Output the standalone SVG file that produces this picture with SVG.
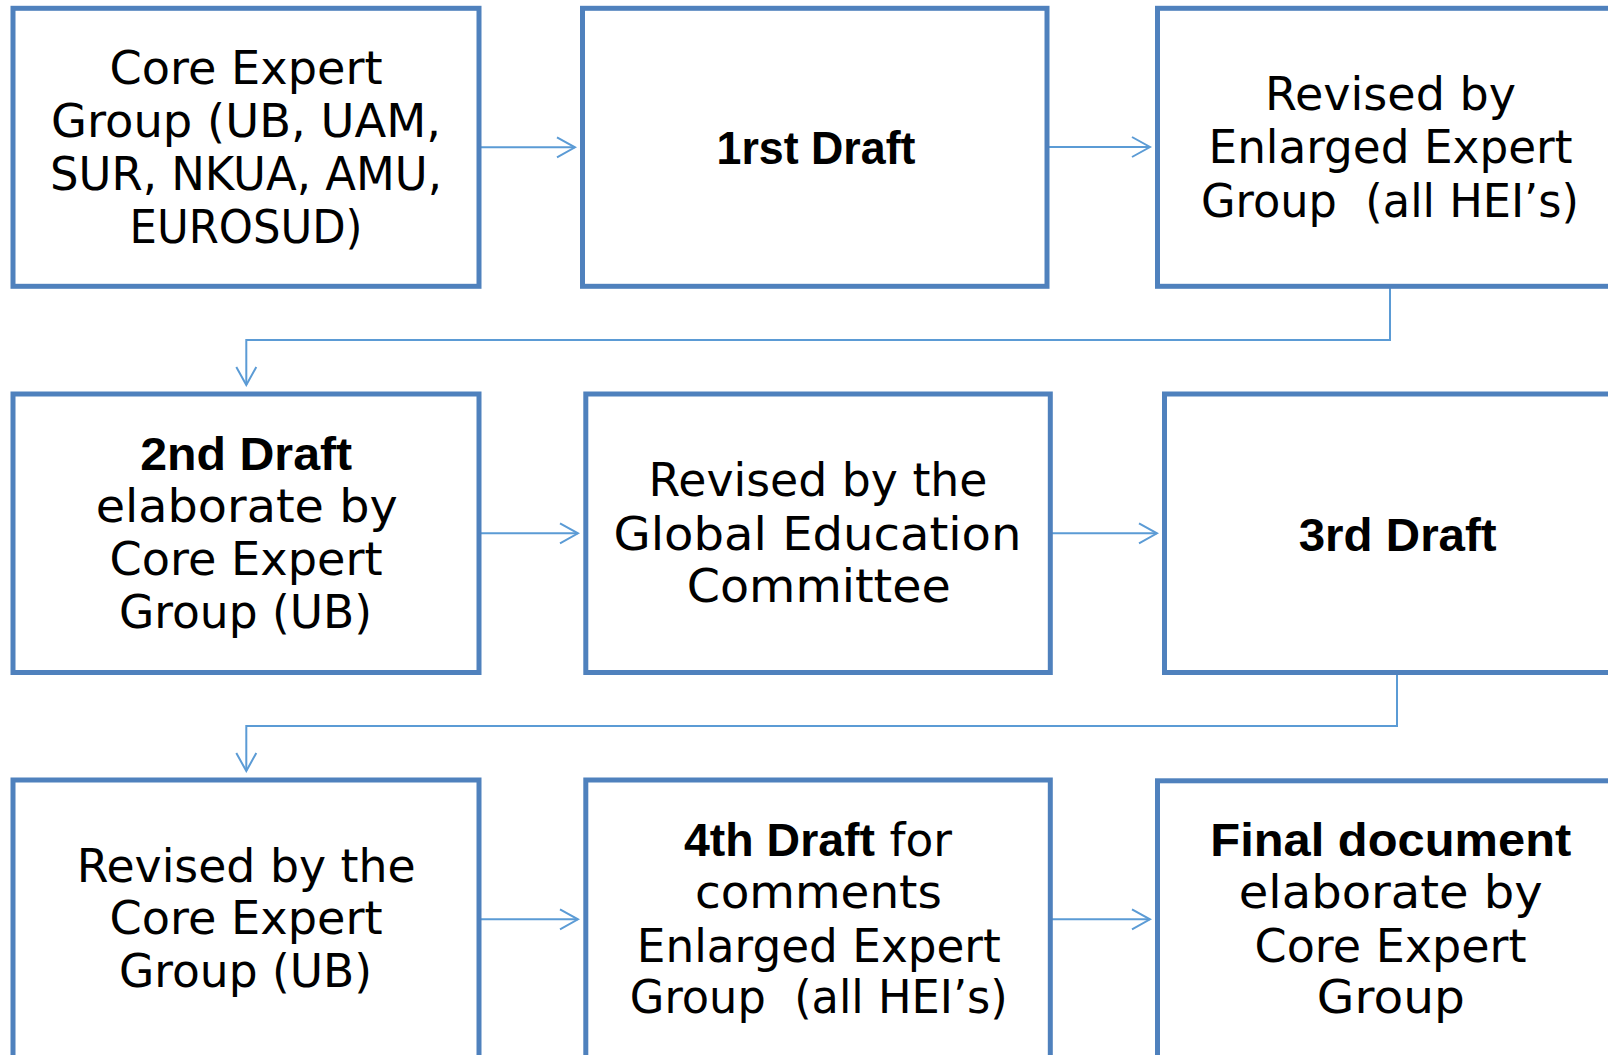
<svg xmlns="http://www.w3.org/2000/svg" width="1608" height="1055" viewBox="0 0 1608 1055">
<style>
.box{fill:#FFFFFF;stroke:#4F81BD;stroke-width:5}
.conn{fill:none;stroke:#5B9BD5;stroke-width:2}
.t{font-family:"DejaVu Sans",sans-serif;font-size:46px;fill:#000000;text-anchor:middle}
.b{font-family:"Liberation Sans",Arial,sans-serif;font-weight:bold;font-size:47px;fill:#000000;text-anchor:middle}
.bs{font-family:"Liberation Sans",Arial,sans-serif;font-weight:bold}
</style>
<defs>
<marker id="arr" markerUnits="userSpaceOnUse" markerWidth="22" markerHeight="24" viewBox="0 0 22 24" refX="20" refY="12" orient="auto">
<path d="M2,2 L20,12 L2,22" fill="none" stroke="#5B9BD5" stroke-width="2"/>
</marker>
</defs>
<rect width="1608" height="1055" fill="#FFFFFF"/>
<g id="connectors">
<line class="conn" x1="479" y1="147.3" x2="575" y2="147.3" marker-end="url(#arr)"/>
<line class="conn" x1="1047" y1="147" x2="1150" y2="147" marker-end="url(#arr)"/>
<polyline class="conn" points="1390,286 1390,340 246.3,340 246.3,385" marker-end="url(#arr)"/>
<line class="conn" x1="479" y1="533.3" x2="578" y2="533.3" marker-end="url(#arr)"/>
<line class="conn" x1="1050" y1="533.3" x2="1157" y2="533.3" marker-end="url(#arr)"/>
<polyline class="conn" points="1397,672 1397,726 246.3,726 246.3,771" marker-end="url(#arr)"/>
<line class="conn" x1="479" y1="919.3" x2="578" y2="919.3" marker-end="url(#arr)"/>
<line class="conn" x1="1050" y1="919.3" x2="1150" y2="919.3" marker-end="url(#arr)"/>
</g>
<g id="node1">
<rect class="box" x="13" y="8.3" width="466" height="278"/>
<text class="t" x="246" y="84" textLength="273" lengthAdjust="spacingAndGlyphs">Core Expert</text>
<text class="t" x="246" y="137" textLength="390" lengthAdjust="spacingAndGlyphs">Group (UB, UAM,</text>
<text class="t" x="246" y="190" textLength="392" lengthAdjust="spacingAndGlyphs">SUR, NKUA, AMU,</text>
<text class="t" x="246" y="242.5" textLength="233" lengthAdjust="spacingAndGlyphs">EUROSUD)</text>
</g>
<g id="node2">
<rect class="box" x="582.5" y="8.3" width="464.5" height="278"/>
<text class="b" x="816" y="164" textLength="199" lengthAdjust="spacingAndGlyphs">1rst Draft</text>
</g>
<g id="node3">
<rect class="box" x="1157.5" y="8.3" width="480" height="278"/>
<text class="t" x="1390.5" y="110" textLength="251" lengthAdjust="spacingAndGlyphs">Revised by</text>
<text class="t" x="1390.5" y="163.3" textLength="364" lengthAdjust="spacingAndGlyphs">Enlarged Expert</text>
<text class="t" x="1390" y="216.7" textLength="378" lengthAdjust="spacingAndGlyphs">Group&#160; (all HEI’s)</text>
</g>
<g id="node4">
<rect class="box" x="13" y="394" width="466" height="278.5"/>
<text class="b" x="246.2" y="470" textLength="212" lengthAdjust="spacingAndGlyphs">2nd Draft</text>
<text class="t" x="246.7" y="521.7" textLength="302" lengthAdjust="spacingAndGlyphs">elaborate by</text>
<text class="t" x="246" y="575" textLength="273" lengthAdjust="spacingAndGlyphs">Core Expert</text>
<text class="t" x="245.5" y="627.5" textLength="253" lengthAdjust="spacingAndGlyphs">Group (UB)</text>
</g>
<g id="node5">
<rect class="box" x="585.8" y="394" width="464.5" height="278.5"/>
<text class="t" x="818" y="496" textLength="339" lengthAdjust="spacingAndGlyphs">Revised by the</text>
<text class="t" x="817.5" y="549.5" textLength="408" lengthAdjust="spacingAndGlyphs">Global Education</text>
<text class="t" x="818.8" y="601.5" textLength="264" lengthAdjust="spacingAndGlyphs">Committee</text>
</g>
<g id="node6">
<rect class="box" x="1164.5" y="394" width="480" height="278.5"/>
<text class="b" x="1397.7" y="550.7" textLength="198" lengthAdjust="spacingAndGlyphs">3rd Draft</text>
</g>
<g id="node7">
<rect class="box" x="13" y="780" width="466" height="300"/>
<text class="t" x="246.2" y="882.3" textLength="339" lengthAdjust="spacingAndGlyphs">Revised by the</text>
<text class="t" x="246" y="934.3" textLength="273" lengthAdjust="spacingAndGlyphs">Core Expert</text>
<text class="t" x="245.5" y="986.7" textLength="253" lengthAdjust="spacingAndGlyphs">Group (UB)</text>
</g>
<g id="node8">
<rect class="box" x="585.8" y="780" width="464.5" height="300"/>
<text class="t" x="818" y="856" textLength="268" lengthAdjust="spacingAndGlyphs"><tspan class="bs" font-size="47">4th Draft</tspan> for</text>
<text class="t" x="818.4" y="908.3" textLength="247" lengthAdjust="spacingAndGlyphs">comments</text>
<text class="t" x="818.8" y="961.7" textLength="364" lengthAdjust="spacingAndGlyphs">Enlarged Expert</text>
<text class="t" x="818.8" y="1013.3" textLength="378" lengthAdjust="spacingAndGlyphs">Group&#160; (all HEI’s)</text>
</g>
<g id="node9">
<rect class="box" x="1157.5" y="780.8" width="480" height="300"/>
<text class="b" x="1390.8" y="856" textLength="361" lengthAdjust="spacingAndGlyphs">Final document</text>
<text class="t" x="1390.8" y="908.3" textLength="304" lengthAdjust="spacingAndGlyphs">elaborate by</text>
<text class="t" x="1390.5" y="961.7" textLength="272" lengthAdjust="spacingAndGlyphs">Core Expert</text>
<text class="t" x="1390.8" y="1013.3" textLength="148" lengthAdjust="spacingAndGlyphs">Group</text>
</g>
</svg>
